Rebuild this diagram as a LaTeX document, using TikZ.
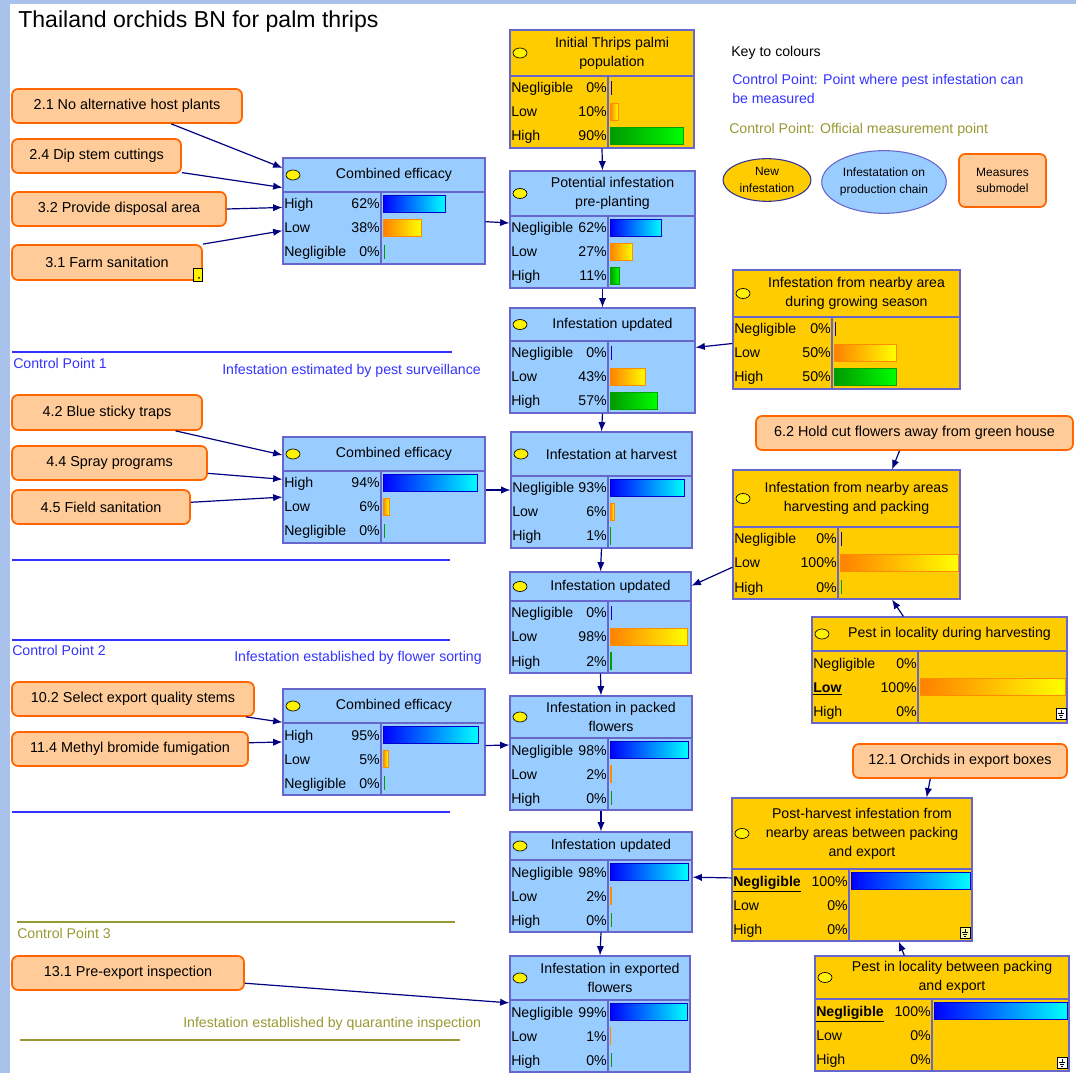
\documentclass[tikz,border=0pt]{standalone}
\usepackage{fontspec}
\setmainfont{Liberation Sans}
\usetikzlibrary{arrows.meta,shapes.geometric,fit}

\definecolor{bnblue}{HTML}{99CCFF}
\definecolor{bngold}{HTML}{FFCC00}
\definecolor{bnedge}{HTML}{6666CC}
\definecolor{measfill}{HTML}{FFCC99}
\definecolor{measedge}{HTML}{FF6600}
\definecolor{navy}{HTML}{000080}
\definecolor{frame}{HTML}{A8C2EC}
\definecolor{cpb}{HTML}{3333FF}
\definecolor{cpo}{HTML}{999933}
\definecolor{keyedge}{HTML}{333399}
\definecolor{bl1}{HTML}{0000FF}\definecolor{br1}{HTML}{00FFFF}\definecolor{bd1}{HTML}{0000CC}
\definecolor{bl2}{HTML}{FF8000}\definecolor{br2}{HTML}{FFFF00}\definecolor{bd2}{HTML}{FF8C00}
\definecolor{bl3}{HTML}{009900}\definecolor{br3}{HTML}{00FF00}\definecolor{bd3}{HTML}{00A000}

\tikzset{
  bnbox/.style={draw=bnedge, line width=0.8pt, inner sep=0pt},
  bnline/.style={draw=bnedge, line width=0.8pt},
  bndot/.style={ellipse, draw=black, fill=yellow, line width=0.5pt, minimum width=10.5pt, minimum height=7.5pt, inner sep=0pt},
  bntitle/.style={font=\fontsize{10.6}{14.3}\selectfont, align=center, inner sep=0pt},
  rowtext/.style={font=\fontsize{10.6}{12}\selectfont, inner sep=0pt},
  measure/.style={draw=measedge, fill=measfill, line width=1.3pt, rounded corners=4.5pt, inner sep=0pt},
  mtext/.style={font=\fontsize{10.8}{12.5}\selectfont, inner sep=0pt, align=center},
  keyshape/.style={ellipse, line width=0.8pt, inner sep=0pt, align=center, font=\fontsize{9}{12.5}\selectfont},
  cpbtext/.style={rowtext, text=cpb},
  cpotext/.style={rowtext, text=cpo},
  link/.style={draw=navy, line width=0.9pt, -{Latex[length=7pt,width=5.5pt]}}
}

\newcommand{\bnnode}[8]{%
  \def\bnN{#1}\def\bnL{#2}\def\bnR{#4}\def\bnS{#6}%
  \pgfmathsetmacro\bnH{#5-72}%
  \node[bnbox, fill=#7, fit={(#2,#3)(#4,#5)}] (#1) {};
  \node[bndot] (#1-d) at (#2+10, {(#3+\bnH)/2}) {};
  \node[bntitle] (#1-t) at ({(#2+20+#4)/2}, {(#3+\bnH)/2}) {#8};
  \draw[bnline] (#2,\bnH) -- (#4,\bnH);
  \draw[bnline] (#6,\bnH) -- (#6,#5);
}

\newcommand{\bnrows}[2][1]{%
  \foreach \lab/\pct [count=\i] in {#2} {
    \pgfmathsetmacro\bnY{\bnH+24*\i-12}
    \node[rowtext, anchor=base west] (\bnN-l\i) at (\bnL+1, \bnY+5) {\lab};
    \node[rowtext, anchor=base east] (\bnN-p\i) at (\bnS-1, \bnY+5) {\pct\%};
    \ifnum\pct>0
      \draw[draw=bd\i, left color=bl\i, right color=br\i, line width=0.6pt]
        (\bnS+2, \bnY-8.5) rectangle ({\bnS+2+(\bnR-\bnS-4)*\pct/100}, \bnY+8.5);
    \else\ifnum#1=1
      \draw[draw=bd\i, line width=0.7pt] (\bnS+3, \bnY-7) -- (\bnS+3, \bnY+7);
    \fi\fi
  }
}

\newcommand{\gndicon}[3]{%
  \draw[black, line width=0.4pt, fill=#3] (#1,#2) rectangle (#1+10,#2+11);
  \draw[black, line width=0.4pt] (#1+5,#2+2) -- (#1+5,#2+5) (#1+2,#2+5) -- (#1+8,#2+5)
    (#1+3,#2+7) -- (#1+7,#2+7) (#1+4,#2+9) -- (#1+6,#2+9);
}

\begin{document}
\begin{tikzpicture}[x=0.75pt, y=-0.75pt]
\useasboundingbox (0,0) rectangle (1076,1073);
\fill[white] (0,0) rectangle (1076,1073);
\fill[frame] (0,0) rectangle (10,1073);
\fill[frame] (0,0) rectangle (1076,4);

\node[anchor=base west, inner sep=0pt, font=\fontsize{17.3}{20}\selectfont] (title) at (18,28) {Thailand orchids BN for palm thrips};

\node[rowtext, anchor=base west] (key) at (731,57) {Key to colours};
\node[cpbtext, anchor=base west] (keyb) at (732,85) {Control Point: Point where pest infestation can};
\node[cpbtext, anchor=base west] (keyb2) at (732,104) {be measured};
\node[cpotext, anchor=base west] (keyo) at (729,134) {Control Point: Official measurement point};
\node[keyshape, fill=bngold, draw=keyedge, minimum width=66pt, minimum height=32pt] (knew) at (767,180) {New\\infestation};
\node[keyshape, fill=bnblue, draw=bnedge, minimum width=92pt, minimum height=47pt] (kchain) at (884,182) {Infestatation on\\production chain};
\node[measure, fit={(959,154)(1046,207)}] (kmeas) {};
\node[mtext, font=\fontsize{9}{12.5}\selectfont] (kmeas-t) at (kmeas) {Measures\\submodel};

\draw[cpb, line width=0.8pt] (12,352) -- (452,352);
\node[cpbtext, anchor=base west] (cp1) at (13,369) {Control Point 1};
\node[cpbtext, anchor=base west] (cp1s) at (222,375) {Infestation estimated by pest surveillance};
\draw[cpb, line width=0.8pt] (12,560) -- (450,560);
\draw[cpb, line width=0.8pt] (12,640) -- (450,640);
\node[cpbtext, anchor=base west] (cp2) at (12,655) {Control Point 2};
\node[cpbtext, anchor=base west] (cp2s) at (234,661) {Infestation established by flower sorting};
\draw[cpb, line width=0.8pt] (12,812) -- (450,812);
\draw[cpo, line width=0.8pt] (17,922) -- (455,922);
\node[cpotext, anchor=base west] (cp3) at (17,938) {Control Point 3};
\node[cpotext, anchor=base west] (cp3s) at (183,1027) {Infestation established by quarantine inspection};
\draw[cpo, line width=0.8pt] (20,1040) -- (460,1040);

\node[measure, fit={(12,89)(242,123)}] (m21) {};
\node[mtext] (m21-t) at (m21) {2.1 No alternative host plants};
\node[measure, fit={(12,139)(181,173)}] (m24) {};
\node[mtext] (m24-t) at (m24) {2.4 Dip stem cuttings};
\node[measure, fit={(12,192)(226,226)}] (m32) {};
\node[mtext] (m32-t) at (m32) {3.2 Provide disposal area};
\node[measure, fit={(12,245)(202,280)}] (m31) {};
\node[mtext] (m31-t) at (m31) {3.1 Farm sanitation};
\draw[black, line width=0.4pt, fill=yellow] (193,268) rectangle (202,281);
\fill[black] (199,278) circle (1);
\node[measure, fit={(12,395)(202,430)}] (m42) {};
\node[mtext] (m42-t) at (m42) {4.2 Blue sticky traps};
\node[measure, fit={(12,446)(207,480)}] (m44) {};
\node[mtext] (m44-t) at (m44) {4.4 Spray programs};
\node[measure, fit={(12,490)(190,524)}] (m45) {};
\node[mtext] (m45-t) at (m45) {4.5 Field sanitation};
\node[measure, fit={(12,682)(254,716)}] (m102) {};
\node[mtext] (m102-t) at (m102) {10.2 Select export quality stems};
\node[measure, fit={(12,732)(248,766)}] (m114) {};
\node[mtext] (m114-t) at (m114) {11.4 Methyl bromide fumigation};
\node[measure, fit={(12,956)(244,990)}] (m131) {};
\node[mtext] (m131-t) at (m131) {13.1 Pre-export inspection};
\node[measure, fit={(756,416)(1073,450)}] (m62) {};
\node[mtext] (m62-t) at (m62) {6.2 Hold cut flowers away from green house};
\node[measure, fit={(853,744)(1067,778)}] (m121) {};
\node[mtext] (m121-t) at (m121) {12.1 Orchids in export boxes};

\bnnode{ini}{510}{30}{694}{148}{608}{bngold}{Initial Thrips palmi\\population}
\bnrows{Negligible/0, Low/10, High/90}
\bnnode{ce1}{283}{158}{485}{264}{381}{bnblue}{Combined efficacy}
\bnrows{High/62, Low/38, Negligible/0}
\bnnode{pot}{510}{171}{695}{288}{608}{bnblue}{Potential infestation\\pre-planting}
\bnrows{Negligible/62, Low/27, High/11}
\bnnode{upd1}{510}{308}{695}{413}{608}{bnblue}{Infestation updated}
\bnrows{Negligible/0, Low/43, High/57}
\bnnode{grow}{733}{270}{960}{389}{832}{bngold}{Infestation from nearby area\\during growing season}
\bnrows{Negligible/0, Low/50, High/50}
\bnnode{ce2}{283}{437}{485}{543}{381}{bnblue}{Combined efficacy}
\bnrows{High/94, Low/6, Negligible/0}
\bnnode{harv}{511}{432}{692}{548}{608}{bnblue}{Infestation at harvest}
\bnrows{Negligible/93, Low/6, High/1}
\bnnode{nharv}{733}{470}{960}{599}{838}{bngold}{Infestation from nearby areas\\harvesting and packing}
\bnrows{Negligible/0, Low/100, High/0}
\bnnode{upd2}{510}{572}{691}{673}{608}{bnblue}{Infestation updated}
\bnrows{Negligible/0, Low/98, High/2}
\bnnode{pharv}{812}{617}{1067}{723}{918}{bngold}{Pest in locality during harvesting}
\bnrows[0]{Negligible/0, {\underline{\textbf{Low}}}/100, High/0}
\gndicon{1056}{708}{white}
\bnnode{ce3}{283}{689}{485}{795}{381}{bnblue}{Combined efficacy}
\bnrows{High/95, Low/5, Negligible/0}
\bnnode{pack}{510}{696}{692}{810}{608}{bnblue}{Infestation in packed\\flowers}
\bnrows{Negligible/98, Low/2, High/0}
\bnnode{post}{732}{798}{972}{941}{849}{bngold}{Post-harvest infestation from\\nearby areas between packing\\and export}
\bnrows[0]{{\underline{\textbf{Negligible}}}/100, Low/0, High/0}
\gndicon{960}{927}{yellow!40}
\bnnode{upd3}{510}{832}{692}{932}{608}{bnblue}{Infestation updated}
\bnrows{Negligible/98, Low/2, High/0}
\bnnode{pbetw}{815}{956}{1069}{1071}{932}{bngold}{Pest in locality between packing\\and export}
\bnrows[0]{{\underline{\textbf{Negligible}}}/100, Low/0, High/0}
\gndicon{1057}{1057}{white}
\bnnode{exp}{510}{956}{690}{1072}{608}{bnblue}{Infestation in exported\\flowers}
\bnrows{Negligible/99, Low/1, High/0}

\draw[link] (m21.-22) -- (ce1.157);
\draw[link] (m24.-11) -- (ce1.167);
\draw[link] (m32.east) -- (ce1.178);
\draw[link] (m31.north east) -- (ce1.191);
\draw[link] (ce1.-6) -- (pot.176);
\draw[link] (ini.south) -- (pot.north);
\draw[link] (pot.south) -- (upd1.north);
\draw[link] (grow.187) -- (upd1.8);
\draw[link] (upd1.south) -- (harv.north);
\draw[link] (m42.-15) -- (ce2.161);
\draw[link] (m44.-6) -- (ce2.174);
\draw[link] (m45.3) -- (ce2.184);
\draw[link] (ce2.east) -- (harv.west);
\draw[link] (m62.-130) -- (nharv.55);
\draw[link] (nharv.196) -- (upd2.22);
\draw[link] (harv.south) -- (upd2.north);
\draw[link] (pharv.124) -- (nharv.-55);
\draw[link] (upd2.south) -- (pack.north);
\draw[link] (m102.-9) -- (ce3.169);
\draw[link] (m114.3) -- (ce3.west);
\draw[link] (ce3.-2) -- (pack.175);
\draw[link] (pack.south) -- (upd3.north);
\draw[link] (m121.-149) -- (post.44);
\draw[link] (post.184) -- (upd3.3);
\draw[link] (pbetw.123) -- (post.-57);
\draw[link] (upd3.south) -- (exp.north);
\draw[link] (m131.-5) -- (exp.173);
\end{tikzpicture}
\end{document}
